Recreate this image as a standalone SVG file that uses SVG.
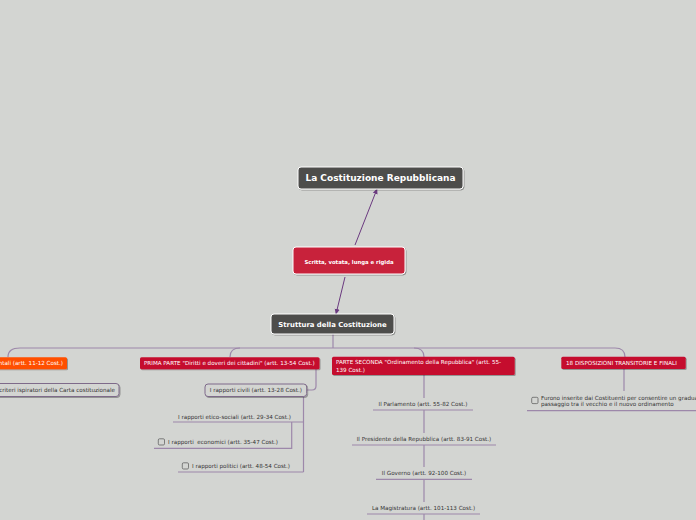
<svg xmlns="http://www.w3.org/2000/svg" width="696" height="520" viewBox="0 0 696 520">
<defs>
<marker id="ah" markerWidth="6" markerHeight="6" refX="5" refY="3" orient="auto" markerUnits="userSpaceOnUse">
<path d="M0,0.5 L5.5,3 L0,5.5 Z" fill="#6b3a80"/>
</marker>
<filter id="sh" x="-10%" y="-20%" width="130%" height="160%">
<feDropShadow dx="1" dy="1" stdDeviation="0.6" flood-color="#000" flood-opacity="0.3"/>
</filter>
</defs>
<style>
text{font-family:"DejaVu Sans","Liberation Sans",sans-serif;}
.dark{fill:#4d4d4b;stroke:#ffffff;stroke-width:1;filter:url(#sh);}
.red{fill:#c8203a;stroke:#ffffff;stroke-width:1;filter:url(#sh);}
.crim{fill:#c5112f;filter:url(#sh);}
.orange{fill:#ff5000;filter:url(#sh);}
.box{fill:#d3d5d2;stroke:#7e6a8a;stroke-width:1;filter:url(#sh);}
.wt{fill:#ffffff;font-size:5.6px;}
.bt{fill:#ffffff;font-weight:bold;}
.dt{fill:#333333;font-size:5.6px;}
.arrow{stroke:#6b3a80;stroke-width:1;fill:none;}
.tree{stroke:#9d88aa;stroke-width:1.2;fill:none;}
.ul{stroke:#9d88aa;stroke-width:1.2;fill:none;}
.cb{fill:#d3d5d2;stroke:#555555;stroke-width:0.7;}
</style>
<rect x="0" y="0" width="696" height="520" fill="#d3d5d2"/>

<g id="connectors">
<line class="arrow" x1="355" y1="245" x2="377" y2="189" marker-end="url(#ah)"/>
<line class="arrow" x1="345" y1="277" x2="336" y2="314" marker-end="url(#ah)"/>
<path class="tree" d="M333,334 V348"/>
<path class="tree" d="M20,348 H615 Q625,348 625,357"/>
<path class="tree" d="M20,348 Q8,348 8,357"/>
<path class="tree" d="M240,348 Q230,348 230,357"/>
<path class="tree" d="M414,348 Q424,348 424,357"/>
<path class="tree" d="M316,369 V386 Q316,390 312,390 H307"/>
<path class="tree" d="M303.5,396 V472"/>
<path class="ul" d="M173,422 H303.5"/>
<path class="ul" d="M291.7,422 V448.3 H154"/>
<path class="ul" d="M178,472 H303.5"/>
<path class="tree" d="M424,375 V398"/>
<path class="ul" d="M373,410 H473"/>
<path class="tree" d="M424,410 V433"/>
<path class="ul" d="M352,445 H496"/>
<path class="tree" d="M424,445 V467"/>
<path class="ul" d="M376,479.3 H472"/>
<path class="tree" d="M424,479.3 V502"/>
<path class="ul" d="M367,514 H480"/>
<path class="tree" d="M424,514 V520"/>
<path class="tree" d="M624,369 V391"/>
<path class="ul" d="M527,410.7 H700"/>
</g>

<g id="n-root">
<rect class="dark" x="298" y="167" width="165" height="22" rx="3"/>
<text class="bt" x="380.5" y="181.2" font-size="9" text-anchor="middle">La Costituzione Repubblicana</text>
</g>

<g id="n-scritta">
<rect class="red" x="293" y="247" width="112" height="27" rx="3"/>
<text class="bt" x="349" y="263.8" font-size="5.35" text-anchor="middle">Scritta, votata, lunga e rigida</text>
</g>

<g id="n-struttura">
<rect class="dark" x="271" y="314" width="123" height="20" rx="3"/>
<text class="bt" x="332.5" y="326.5" font-size="6.9" text-anchor="middle">Struttura della Costituzione</text>
</g>

<g id="n-principi">
<rect class="orange" x="-90" y="357.3" width="157" height="12" rx="1.5"/>
<text class="wt" x="63" y="365.3" text-anchor="end">Principi fondamentali (artt. 11-12 Cost.)</text>
</g>

<g id="n-criteri">
<rect class="box" x="-60" y="383.5" width="179" height="13" rx="3"/>
<text class="dt" x="115" y="391.9" text-anchor="end">I criteri ispiratori della Carta costituzionale</text>
</g>

<g id="n-prima">
<rect class="crim" x="140" y="357.3" width="179.5" height="12" rx="1.5"/>
<text class="wt" x="144" y="365.3">PRIMA PARTE "Diritti e doveri dei cittadini" (artt. 13-54 Cost.)</text>
</g>

<g id="n-civili">
<rect class="box" x="205" y="384" width="101.7" height="12.5" rx="3"/>
<text class="dt" x="255.8" y="392.3" text-anchor="middle">I rapporti civili (artt. 13-28 Cost.)</text>
</g>

<g id="n-etico">
<text class="dt" x="234.5" y="418.7" text-anchor="middle">I rapporti etico-sociali (artt. 29-34 Cost.)</text>
</g>

<g id="n-economici">
<rect class="cb" x="158.3" y="438.8" width="6.2" height="6.2" rx="1.2"/>
<text class="dt" x="168" y="444.4" xml:space="preserve">I rapporti  economici (artt. 35-47 Cost.)</text>
</g>

<g id="n-politici">
<rect class="cb" x="182.3" y="462.8" width="6.2" height="6.2" rx="1.2"/>
<text class="dt" x="192" y="468.4">I rapporti politici (artt. 48-54 Cost.)</text>
</g>

<g id="n-seconda">
<rect class="crim" x="332" y="356.7" width="182.7" height="18.3" rx="1.5"/>
<text class="wt" x="336" y="364.4">PARTE SECONDA "Ordinamento della Repubblica" (artt. 55-</text>
<text class="wt" x="336" y="371.6">139 Cost.)</text>
</g>

<g id="n-parlamento">
<text class="dt" x="423" y="406" text-anchor="middle">Il Parlamento (artt. 55-82 Cost.)</text>
</g>

<g id="n-presidente">
<text class="dt" x="424" y="441.2" text-anchor="middle">Il Presidente della Repubblica (artt. 83-91 Cost.)</text>
</g>

<g id="n-governo">
<text class="dt" x="424" y="475" text-anchor="middle">Il Governo (artt. 92-100 Cost.)</text>
</g>

<g id="n-magistratura">
<text class="dt" x="423.5" y="510" text-anchor="middle">La Magistratura (artt. 101-113 Cost.)</text>
</g>

<g id="n-disposizioni">
<rect class="crim" x="561.3" y="356.7" width="124.4" height="12.3" rx="1.5"/>
<text class="wt" x="566" y="364.8">18 DISPOSIZIONI TRANSITORIE E FINALI</text>
</g>

<g id="n-furono">
<rect class="cb" x="531.7" y="397.3" width="6.3" height="6.3" rx="1.2"/>
<text class="dt" x="541" y="400.1">Furono inserite dai Costituenti per consentire un graduale</text>
<text class="dt" x="541" y="406.2">passaggio tra il vecchio e il nuovo ordinamento</text>
</g>
</svg>
